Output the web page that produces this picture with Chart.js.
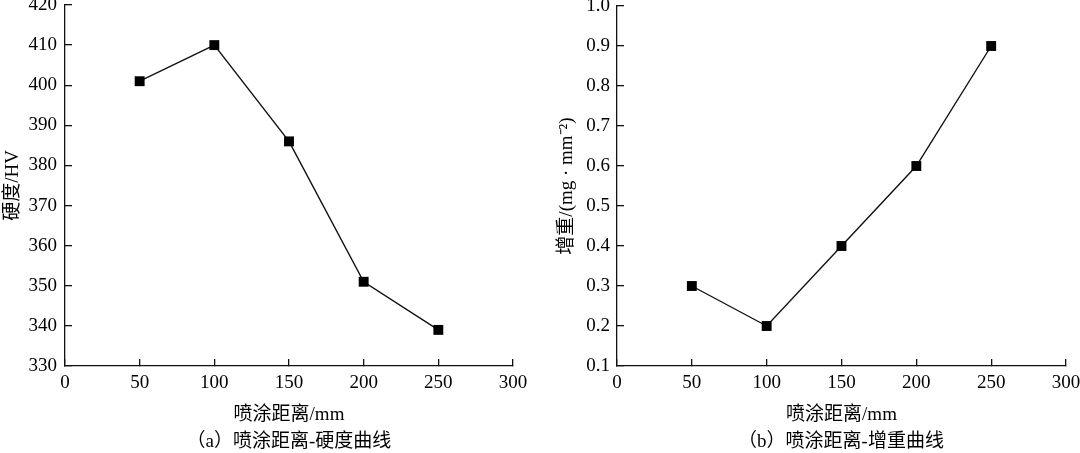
<!DOCTYPE html>
<html>
<head>
<meta charset="utf-8">
<script src="https://cdn.jsdelivr.net/npm/chart.js@4/dist/chart.umd.min.js"></script>
<style>
  html, body { margin: 0; padding: 0; background: #fff; }
  #wrap { position: relative; width: 1080px; height: 453px; overflow: hidden; }
  .panel { position: absolute; top: 0; width: 540px; height: 453px; }
  .cap { position: absolute; top: 430px; height: 22px; line-height: 22px; text-align: center;
         font-family: "Liberation Serif", "Noto Sans CJK SC", serif; font-size: 19px; color: #000; white-space: nowrap; }
</style>
</head>
<body>
<div id="wrap">
  <div class="panel" style="left:0"><canvas id="c1" width="540" height="453"></canvas></div>
  <div class="panel" style="left:540px"><canvas id="c2" width="540" height="453"></canvas></div>
  <div class="cap" style="left:89px;width:400px">（a）喷涂距离-硬度曲线</div>
  <div class="cap" style="left:641px;width:400px">（b）喷涂距离-增重曲线</div>
</div>
<script>
// ---- data ----
const distances = [50, 100, 150, 200, 250];
const hardness = [401, 410, 386, 351, 339];
const weightGain = [0.3, 0.2, 0.4, 0.6, 0.9];
const xAxisTitle = '喷涂距离/mm';
const yTitleA = '硬度/HV';
const yTitleB = '增重/(mg · mm⁻²)';
const xRange = { min: 0, max: 300, step: 50 };
const yRangeA = { min: 330, max: 420, step: 10 };
const yRangeB = { min: 0.1, max: 1.0, step: 0.1 };

const FONT = '"Liberation Serif", "Noto Sans CJK SC", serif';
const INK = '#111';
const TICK_IN = -7; // negative tick length: marks point into the plot

function makeChart(id, values, yRange, yTitle, opts) {
  const points = distances.map((d, i) => ({ x: d, y: values[i] }));
  return new Chart(document.getElementById(id), {
    type: 'line',
    data: {
      datasets: [{
        data: points,
        borderColor: INK,
        borderWidth: 1.4,
        tension: 0,
        pointStyle: 'rect',
        pointRadius: 7,
        pointHoverRadius: 7,
        pointBorderWidth: 0,
        pointBackgroundColor: '#000'
      }]
    },
    options: {
      responsive: false,
      animation: false,
      devicePixelRatio: 1,
      layout: { autoPadding: false, padding: { top: opts.top, right: opts.right, left: 0, bottom: 0 } },
      plugins: { legend: { display: false }, tooltip: { enabled: false } },
      scales: {
        x: {
          type: 'linear',
          min: xRange.min, max: xRange.max,
          grid: { display: true, drawOnChartArea: false, drawTicks: true, tickLength: TICK_IN, color: INK, lineWidth: 1.3 },
          border: { display: true, color: INK, width: 1.3 },
          ticks: { stepSize: xRange.step, padding: 13, color: '#000', font: { family: FONT, size: 19 }, maxRotation: 0 },
          title: { display: true, text: xAxisTitle, color: '#000', font: { family: FONT, size: 19 }, padding: { top: 0, bottom: 27 } },
          afterFit(s) { s.height = 87; s.paddingLeft = 0; s.paddingRight = 0; }
        },
        y: {
          type: 'linear',
          min: yRange.min, max: yRange.max,
          grid: { display: true, drawOnChartArea: false, drawTicks: true, tickLength: TICK_IN, color: INK, lineWidth: 1.3 },
          border: { display: true, color: INK, width: 1.3 },
          ticks: {
            stepSize: yRange.step, padding: opts.tickPad, color: '#000', font: { family: FONT, size: 19 },
            callback: v => opts.fixed ? Number(v).toFixed(1) : String(Math.round(v))
          },
          title: { display: true, text: yTitle, color: '#000', font: { family: FONT, size: 19 }, padding: { top: opts.titlePad, bottom: 0 } },
          afterFit(s) { s.width = opts.left; s.paddingTop = 0; s.paddingBottom = 0; }
        }
      }
    }
  });
}

makeChart('c1', hardness, yRangeA, yTitleA, { top: 5, right: 27, left: 65, tickPad: 15, titlePad: 2, fixed: false });
makeChart('c2', weightGain, yRangeB, yTitleB, { top: 6, right: 14, left: 77, tickPad: 14, titlePad: 16, fixed: true });
</script>
</body>
</html>
